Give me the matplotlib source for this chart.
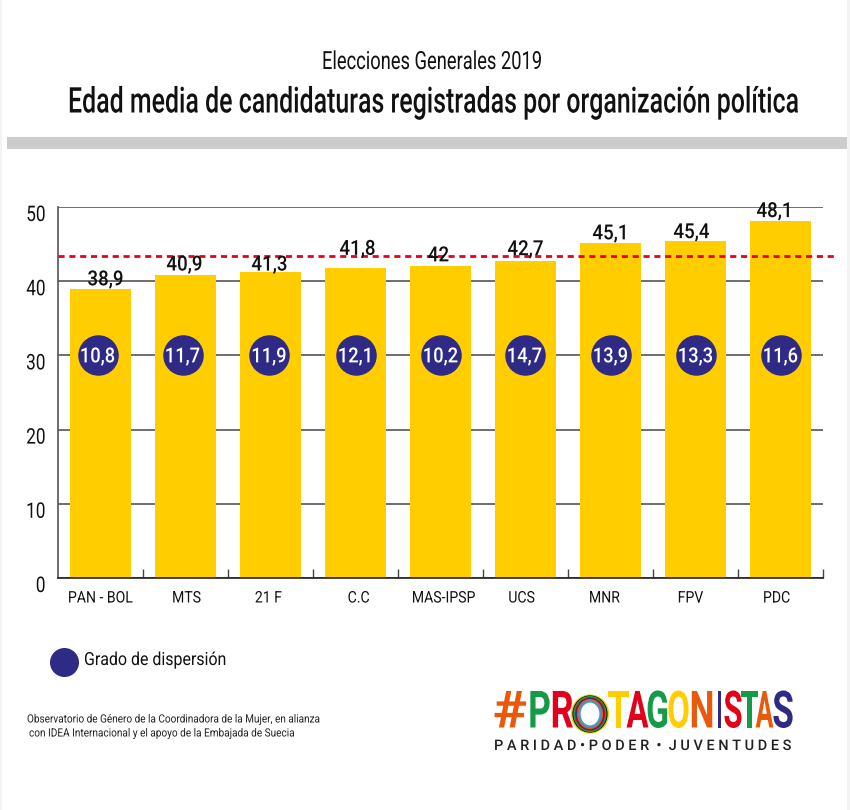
"""Edad media de candidaturas, bar chart with dispersion badges."""
import matplotlib

matplotlib.use("Agg")
import matplotlib.pyplot as plt
from matplotlib.patches import Circle, Ellipse, Rectangle
from matplotlib.patheffects import AbstractPathEffect
from matplotlib.transforms import Affine2D, Bbox, ScaledTranslation

parties = ["PAN - BOL", "MTS", "21 F", "C.C", "MAS-IPSP", "UCS", "MNR", "FPV", "PDC"]
mean_age = [38.9, 40.9, 41.3, 41.8, 42, 42.7, 45.1, 45.4, 48.1]
dispersion = [10.8, 11.7, 11.9, 12.1, 10.2, 14.7, 13.9, 13.3, 11.6]
overall_mean = 43.4
y_ticks = [0, 10, 20, 30, 40, 50]

# hand placed offsets in the original artwork (pixels)
label_dx = [5, -1, -1, 2, -2, 0, 0, -4, -6]
label_dy = [1, 1, -2, 10, 2, 3, 1, 0, 1]
tick_dx = [0, 1, -2, 3, 3, -4, -6, -5, -4]
badge_dx = [-3, -3, -1.5, 0, 0, -1, 0, 0, 0]

YELLOW, NAVY, RED = "#ffcd00", "#2e2a85", "#e2001a"
GREEN, ORANGE = "#159a48", "#e8590c"
W, H = 850, 810

plt.rcParams["font.family"] = ["Roboto", "DejaVu Sans"]


class Squeeze(AbstractPathEffect):
    """Scale glyphs horizontally around a pixel x, no condensed font installed."""

    def __init__(self, sx, cx):
        super().__init__()
        self.sx, self.cx = sx, cx

    def draw_path(self, renderer, gc, tpath, affine, rgbFace=None):
        squeeze = Affine2D().translate(-self.cx, 0).scale(self.sx, 1).translate(self.cx, 0)
        renderer.draw_path(gc, tpath, affine + squeeze, rgbFace)


def fit(text, width=None, sx=None):
    """Condense a text to a pixel width (or by a factor), and report the real extent."""
    bb = text.get_window_extent()
    sx = sx if sx is not None else width / bb.width
    cx = {"left": bb.x0, "center": (bb.x0 + bb.x1) / 2, "right": bb.x1}[text.get_ha()]
    text.set_path_effects([Squeeze(sx, cx)])
    new_bb = Bbox([[cx + (bb.x0 - cx) * sx, bb.y0], [cx + (bb.x1 - cx) * sx, bb.y1]])
    text.get_window_extent = lambda renderer=None, dpi=None: new_bb


fig = plt.figure(figsize=(W / 100, H / 100), dpi=100, facecolor="white")

# pixel overlay for the title block, legend, footer and logo
bg = fig.add_axes([0, 0, 1, 1], zorder=0)
bg.set_xlim(0, W)
bg.set_ylim(H, 0)
bg.axis("off")
bg.add_patch(Rectangle((0, 0), 2, H, color="#f3f3f3", lw=0))
bg.add_patch(Rectangle((847.5, 0), 3, H, color="#f3f3f3", lw=0))
bg.add_patch(Rectangle((7, 137), 840.5, 12, color="#cccccc", lw=0))
subtitle = bg.text(432, 62, "Elecciones Generales 2019", ha="center", va="center", fontsize=18, color="#111")
title = bg.text(432.5, 103, "Edad media de candidaturas registradas por organización política",
                ha="center", va="center", fontsize=25.5, fontweight="medium", color="#111")

left, right, y0, y50 = 58, 823, 578, 207
ax = fig.add_axes([left / W, 1 - y0 / H, (right - left) / W, (y0 - y50) / H], zorder=1)
ax.patch.set_alpha(0)
x = list(range(len(parties)))
ax.set_xlim(-0.5, len(parties) - 0.5)
ax.set_ylim(0, 50)
ax.set_axisbelow(True)
ax.grid(axis="y", color="#555", lw=1.2)
ax.bar(x, mean_age, width=0.72, color=YELLOW, zorder=2)
ax.plot([-0.5, len(parties) - 0.37], [overall_mean] * 2, color="#e8001c", lw=2, ls=(0, (2.2, 1.7)),
        zorder=3, clip_on=False)
badge_x = [xi + dx / 85 for xi, dx in zip(x, badge_dx)]
ax.scatter(badge_x, [30] * len(x), s=850, color=NAVY, lw=0, zorder=4, clip_on=False)

value_texts, badge_texts = [], []
for xi, bx, v, d, dx, dy in zip(x, badge_x, mean_age, dispersion, label_dx, label_dy):
    value_texts.append(ax.annotate(str(v).replace(".", ","), (xi, v), xytext=(dx * 0.72, (dy - 1) * 0.72),
                                   textcoords="offset points", ha="center", va="bottom",
                                   fontsize=15, fontweight="medium", color="#111", zorder=5))
    badge_texts.append(ax.text(bx, 29.8, str(d).replace(".", ","), ha="center", va="center",
                               fontsize=15, fontweight="medium", color="white", zorder=5))

ax.spines[["top", "right"]].set_visible(False)
ax.spines["left"].set_color("#555")
ax.spines["left"].set_linewidth(1.2)
ax.spines["bottom"].set_color("#222")
ax.spines["bottom"].set_linewidth(1.2)

ax.set_yticks(y_ticks)
ax.set_yticklabels([str(t) for t in y_ticks], fontsize=15.5, color="#111")
ax.tick_params(axis="y", length=0, pad=9)
for lab in ax.get_yticklabels():
    lab.set_transform(lab.get_transform() + ScaledTranslation(0, -6 / 100, fig.dpi_scale_trans))

ax.set_xticks(x)
ax.set_xticklabels(parties, fontsize=11.5, color="#111")
ax.tick_params(axis="x", length=0, pad=9)
for lab, dx in zip(ax.get_xticklabels(), tick_dx):
    lab.set_transform(lab.get_transform() + ScaledTranslation(dx / 100, 0, fig.dpi_scale_trans))
ax.set_xticks([i + 0.5 for i in x], minor=True)
ax.tick_params(axis="x", which="minor", direction="in", length=6.5, width=1, color="#444")

# legend
bg.add_patch(Circle((64.5, 662.5), 14.5, color=NAVY, lw=0))
legend_text = bg.text(84, 660, "Grado de dispersión", ha="left", va="center", fontsize=13, color="#111")

# footer
foot1 = bg.text(27, 719.5, "Observatorio de Género de la Coordinadora de la Mujer, en alianza",
                ha="left", va="center", fontsize=8.2, color="#222")
foot2 = bg.text(29, 733.5, "con IDEA Internacional y el apoyo de la Embajada de Suecia",
                ha="left", va="center", fontsize=8.2, color="#222")

# logo, letters set one by one
logo_letters = ["#", "P", "R", "T", "A", "G", "O", "N", "I", "S", "T", "A", "S"]
logo_x0 = [495, 530, 552, 608, 627, 648, 669, 692, 717, 725, 741, 756, 774]
logo_x1 = [525, 549, 572, 629, 648, 667, 688, 712, 722, 741, 758, 773, 792]
logo_scale = [1.15, 1.2, 1.15, 1.08, 1.05, 1.2, 1.2, 1.25, 1.0, 1.2, 1.1, 1.05, 1.2]
logo_colors = [ORANGE, GREEN, RED, YELLOW, RED, GREEN, YELLOW, ORANGE, NAVY, RED, GREEN, ORANGE, NAVY]
logo_texts = []
for ch, a, b, k, c in zip(logo_letters, logo_x0, logo_x1, logo_scale, logo_colors):
    logo_texts.append((bg.text((a + b) / 2, 713.5, ch, ha="center", va="center", fontsize=37,
                               fontweight="bold", color=c), (b - a) * k))
rings = [(18, 18.5, YELLOW), (16.5, 17.5, "#111"), (15.5, 17, GREEN), (14, 15.5, RED),
         (13, 15, NAVY), (12, 14, ORANGE), (10.5, 12.5, "#3a9ad9")]
for rx, ry, c in rings:
    bg.add_patch(Ellipse((590, 714), rx * 2, ry * 2, fc="none", ec=c, lw=1.6))
strap = bg.text(643, 746, "P A R I D A D • P O D E R  •  J U V E N T U D E S", ha="center", va="center",
                fontsize=10.5, fontweight="medium", color="#222")

fig.canvas.draw()
fit(subtitle, 220)
fit(title, 729)
for t in value_texts:
    fit(t, sx=0.9)
for t in badge_texts:
    fit(t, sx=0.88)
for t in ax.get_yticklabels():
    fit(t, sx=0.8)
for t in ax.get_xticklabels():
    fit(t, sx=0.88)
fit(legend_text, 142)
fit(foot1, 293)
fit(foot2, 266)
for t, w in logo_texts:
    fit(t, w)
fit(strap, 298)

fig.savefig("out.png", dpi=100, facecolor="white")
